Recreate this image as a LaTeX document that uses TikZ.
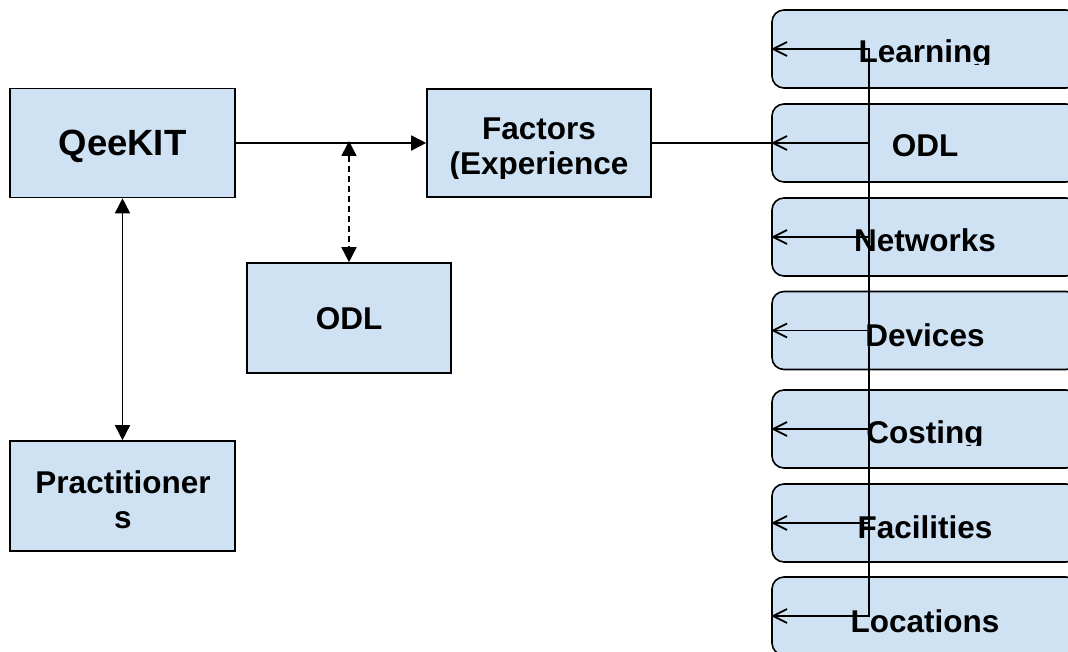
\documentclass[tikz,border=0pt]{standalone}
\usepackage{fontspec}
\setmainfont{Liberation Sans}
\usetikzlibrary{arrows.meta}
\definecolor{boxblue}{HTML}{CFE2F3}
\begin{document}
\begin{tikzpicture}[x=1pt,y=-1pt,
  box/.style={draw=black, fill=boxblue, line width=1.6pt, inner sep=0pt},
  rbox/.style={box, rounded corners=12pt, minimum width=306pt, minimum height=78pt},
  txt/.style={anchor=base, inner sep=0pt, font=\fontsize{31.5}{35}\selectfont\bfseries},
  big/.style={anchor=base, inner sep=0pt, font=\fontsize{36.5}{40}\selectfont\bfseries},
  link/.style={line width=1.6pt},
  tri/.style={link, -{Triangle[length=15pt,width=15pt]}},
  dtri/.style={link, {Triangle[length=15pt,width=15pt]}-{Triangle[length=15pt,width=15pt]}},
  barb/.style={line width=1.7pt, -{Straight Barb[length=14pt,width=14pt]}}
]
\useasboundingbox (0,0) rectangle (1068,652);
\clip (0,0) rectangle (1068,652);

% left boxes
\node[box, minimum width=225pt, minimum height=109pt] (qee) at (122.5,143) {};
\node[big] (qeeT) at (122.5,156) {QeeKIT};
\node[box, minimum width=225pt, minimum height=110pt] (prac) at (122.5,496) {};
\node[txt] (pracT1) at (123,493) {Practitioner};
\node[txt] (pracT2) at (123,528) {s};
\node[box, minimum width=224pt, minimum height=108pt] (fac) at (539,143) {};
\begin{scope}
  \clip (427,89) rectangle (651,179);
  \node[txt] (facT1) at (539,140) {Factors};
  \node[txt] (facT2) at (539,175) {(Experience};
\end{scope}
\node[box, minimum width=204pt, minimum height=110pt] (odl) at (349,318) {};
\node[txt] (odlT) at (349,330) {ODL};

% right column
\node[rbox] (r1) at (925,49) {};
\node[rbox] (r2) at (925,143) {};
\node[rbox] (r3) at (925,237) {};
\node[rbox] (r4) at (925,330.5) {};
\node[rbox] (r5) at (925,429) {};
\node[rbox] (r6) at (925,523) {};
\node[rbox] (r7) at (925,616) {};
\begin{scope}
  \clip (772,10) rectangle (1080,65);
  \node[txt] (r1T) at (925,63) {Learning};
\end{scope}
\node[txt] (r2T) at (925,157) {ODL};
\node[txt] (r3T) at (925,252) {Networks};
\node[txt] (r4T) at (925,346) {Devices};
\begin{scope}
  \clip (772,390) rectangle (1080,445);
  \node[txt] (r5T) at (925,443) {Costing};
\end{scope}
\node[txt] (r6T) at (925,538) {Facilities};
\node[txt] (r7T) at (925,632) {Locations};

% connectors
\draw[tri] (qee.east) -- (fac.west);
\coordinate (dtop) at (349,141);
\draw[dtri, dash pattern=on 6pt off 4pt] (dtop) -- (odl.north);
\draw[dtri] (qee.south) -- (prac.north);
\coordinate (hub) at (869,143);
\draw[line width=2.4pt] (fac.east) -- (hub);
\foreach \r in {r1,r2,r3,r4,r5,r6,r7}
  \draw[barb] (hub) |- (\r.west);
\end{tikzpicture}
\end{document}
